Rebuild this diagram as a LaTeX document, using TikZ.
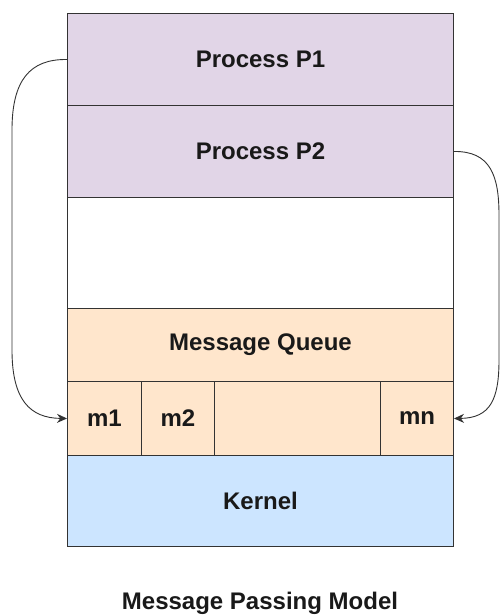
\documentclass[tikz,border=0pt]{standalone}
\usepackage{fontspec}
\setmainfont{Liberation Sans}
\usetikzlibrary{arrows.meta}

\definecolor{procfill}{HTML}{E1D5E7}
\definecolor{queuefill}{HTML}{FFE6CC}
\definecolor{kernfill}{HTML}{CCE5FF}
\definecolor{edge}{HTML}{333333}

\tikzset{
cell/.style={draw=edge, line width=1pt, anchor=north west, inner sep=0pt,
  font=\fontsize{24}{28}\selectfont\bfseries, text=black!90},
flow/.style={draw=edge, line width=0.9pt, -{Stealth[length=10pt,width=9pt]}}
}

% name, x, y, width, height, fill, label
\newcommand{\cellbox}[7]{
\node[cell, fill=#6, minimum width=#4pt, minimum height=#5pt]
(#1) at (#2, #3) {#7};
}

\begin{document}
\begin{tikzpicture}[x=1pt, y=-1pt]
\useasboundingbox (0, 0) rectangle (501, 615);

\cellbox{p1}{67}{13}{386}{92}{procfill}{Process P1}
\cellbox{p2}{67}{105}{386}{92}{procfill}{Process P2}
\cellbox{free}{67}{197}{386}{111}{white}{}
\cellbox{queue}{67}{308}{386}{73}{queuefill}{Message Queue}

\cellbox{m1}{67}{381}{74}{74}{queuefill}{m1}
\cellbox{m2}{141}{381}{73}{74}{queuefill}{m2}
\cellbox{gap}{214}{381}{166}{74}{queuefill}{}
\cellbox{mn}{380}{381}{73}{74}{queuefill}{mn}

\cellbox{kernel}{67}{455}{386}{91}{kernfill}{Kernel}

\draw[flow] (p1.west) .. controls (30, 59) and (12, 80) .. (12, 130)
-- (12, 350) .. controls (12, 400) and (30, 418) .. (m1.west);
\draw[flow] (p2.east) .. controls (490, 151) and (499, 175) .. (499, 215)
-- (499, 360) .. controls (499, 400) and (490, 418) .. (mn.east);

\node[font=\fontsize{24}{28}\selectfont\bfseries, text=black!90]
(title) at (260, 603) {Message Passing Model};
\end{tikzpicture}
\end{document}
